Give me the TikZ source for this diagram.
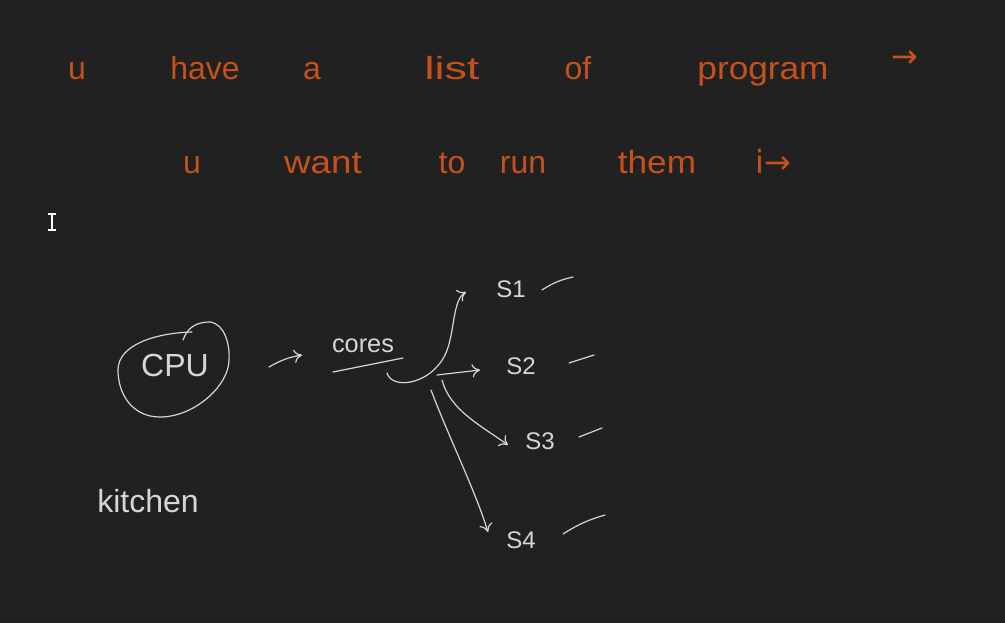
\documentclass[tikz,border=0pt]{standalone}
\usepackage{fontspec}
\setmainfont{Liberation Sans}
\newfontfamily\symf{DejaVu Sans}
\usetikzlibrary{arrows.meta}
\definecolor{bg}{HTML}{212121}
\definecolor{ink}{HTML}{C4521A}
\definecolor{chalk}{HTML}{D6D6D6}
\tikzset{
  word/.style={text=ink, inner sep=0pt, anchor=base, font=\fontsize{24}{26}\selectfont},
  wtext/.style={text=chalk, inner sep=0pt},
  stroke/.style={draw=chalk, line width=0.9pt, line cap=round, line join=round},
  arr/.style={stroke, -{To[length=6pt,width=10pt]}},
}
\begin{document}
\begin{tikzpicture}[x=0.75pt,y=-0.75pt]
\fill[bg] (0,0) rectangle (1005,623);
\useasboundingbox (0,0) rectangle (1005,623);

% first line
\node[word] (w1) at (77,80) {u};
\node[word] (w2) at (205,80) {have};
\node[word] (w3) at (312,80) {a};
\node[word, xscale=1.4] (w4) at (452,80) {list};
\node[word] (w5) at (578,80) {of};
\node[word, xscale=1.1] (w6) at (763,80) {program};
\node[word, font=\symf\fontsize{24}{26}\selectfont] (w7) at (905,68) {→};

% second line
\node[word] (v1) at (192,174) {u};
\node[word, xscale=1.15] (v2) at (323,174) {want};
\node[word] (v3) at (452,174) {to};
\node[word] (v4) at (523,174) {run};
\node[word, xscale=1.1] (v5) at (657,174) {them};
\node[word, font=\symf\fontsize{24}{26}\selectfont] (v6) at (773,174) {i→};

% text cursor
\draw[draw=white, line width=1.4pt] (52,214) -- (52,230) (48,214) -- (56,214) (48,230) -- (56,230);

% CPU
\node[wtext, font=\fontsize{24}{26}\selectfont] (cpu) at (175,365) {CPU};
\draw[stroke] (183,340) .. controls (188,326) and (198,322) .. (210,322)
  .. controls (225,324) and (230,345) .. (229,360)
  .. controls (229,385) and (195,417) .. (160,417)
  .. controls (133,417) and (118,395) .. (118,370)
  .. controls (118,345) and (155,333) .. (192,332);

% arrow to cores
\coordinate (a0) at (269,367);
\coordinate (a1) at (302,355);
\draw[arr] (a0) to[bend left=10] (a1);

\node[wtext, font=\fontsize{19}{21}\selectfont] (cores) at (363,346) {cores};
\coordinate (u0) at (333,372);
\coordinate (u1) at (403,358);
\draw[stroke] (u0) -- (u1);

% targets
\node[wtext, font=\fontsize{18}{20}\selectfont] (s1) at (511,289) {S1};
\node[wtext, font=\fontsize{18}{20}\selectfont] (s2) at (521,366) {S2};
\node[wtext, font=\fontsize{18}{20}\selectfont] (s3) at (540,441) {S3};
\node[wtext, font=\fontsize{18}{20}\selectfont] (s4) at (521,540) {S4};

% fan-out
\coordinate (h0) at (387,373);
\coordinate (h1) at (437,375);
\coordinate (h2) at (442,380);
\coordinate (h3) at (431,390);
\coordinate (t1) at (466,292);
\coordinate (t2) at (480,370);
\coordinate (t3) at (508,445);
\coordinate (t4) at (488,532);
\draw[arr] (h0) .. controls (392,390) and (430,385) .. (445,355) .. controls (455,335) and (452,300) .. (t1);
\draw[arr] (h1) -- (t2);
\draw[arr] (h2) .. controls (450,410) and (480,425) .. (t3);
\draw[arr] (h3) .. controls (450,440) and (475,490) .. (t4);

% trailing strokes
\coordinate (d1a) at (542,290); \coordinate (d1b) at (573,277);
\coordinate (d2a) at (569,363); \coordinate (d2b) at (594,355);
\coordinate (d3a) at (579,437); \coordinate (d3b) at (602,428);
\coordinate (d4a) at (563,534); \coordinate (d4b) at (605,515);
\draw[stroke] (d1a) to[bend left=10] (d1b);
\draw[stroke] (d2a) -- (d2b);
\draw[stroke] (d3a) -- (d3b);
\draw[stroke] (d4a) to[bend left=8] (d4b);

% kitchen
\node[wtext, font=\fontsize{24}{26}\selectfont, anchor=base] (kitchen) at (148,512) {kitchen};
\end{tikzpicture}
\end{document}
